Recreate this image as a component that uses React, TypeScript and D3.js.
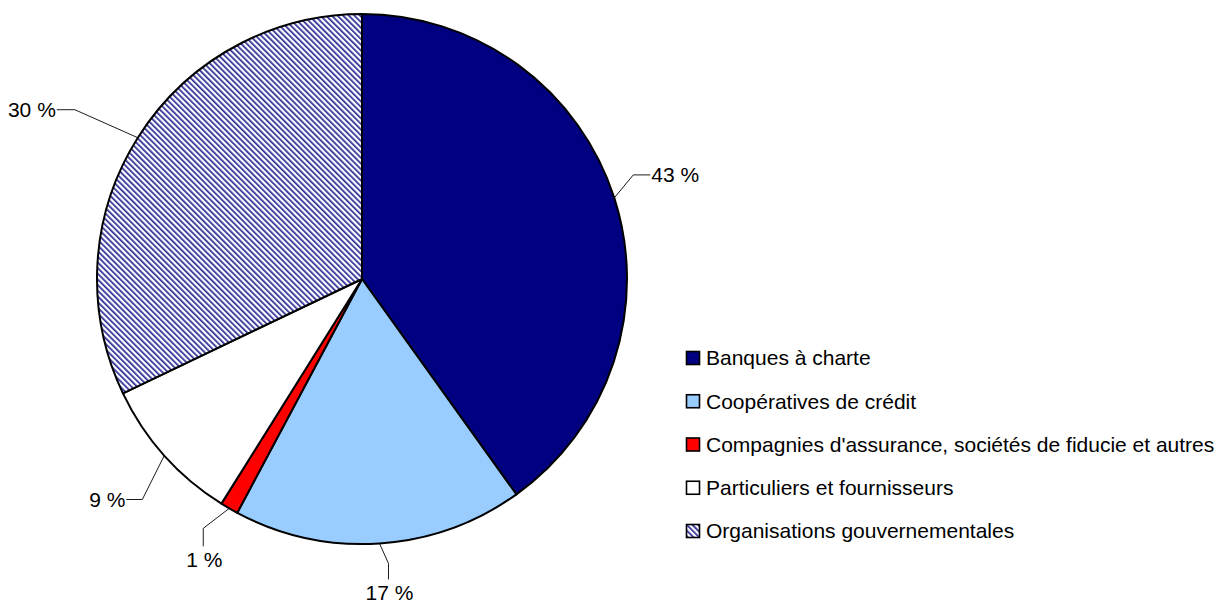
import { useEffect, useRef } from "react";
import * as d3 from "d3";

// shares (clockwise from 12 o'clock)
const categories = [
  "Banques à charte",
  "Coopératives de crédit",
  "Compagnies d'assurance, sociétés de fiducie et autres",
  "Particuliers et fournisseurs",
  "Organisations gouvernementales",
];
const values = [40.1, 17.7, 1.1, 9.0, 32.1];
const valueLabels = ["43 %", "17 %", "1 %", "9 %", "30 %"];
const fills = ["#000080", "#99CCFF", "#FF0000", "#FFFFFF", "url(#hatch)"];

// leader line layout: elbow offset from arc point, then a straight tail
const leaders = [
  { ex: 19, ey: -23, tail: "h", len: 17 },
  { ex: 9, ey: 20, tail: "v", len: 16 },
  { ex: -26, ey: 20, tail: "v", len: 18 },
  { ex: -22, ey: 44, tail: "h", len: -16 },
  { ex: -63, ey: -28, tail: "h", len: -18 },
];

const W = 1223;
const H = 604;
const cx = 362;
const cy = 279;
const R = 265;
const font = "'Liberation Sans', Arial, Helvetica, sans-serif";
const fs = 21;

export default function App() {
  const ref = useRef<SVGSVGElement>(null);

  useEffect(() => {
    const svg = d3.select(ref.current);
    svg.selectAll("*").remove();

    const defs = svg.append("defs");
    const pat = defs
      .append("pattern")
      .attr("id", "hatch")
      .attr("patternUnits", "userSpaceOnUse")
      .attr("width", 4)
      .attr("height", 4)
      .attr("patternTransform", "rotate(-45)");
    pat.append("rect").attr("width", 4).attr("height", 4).attr("fill", "#ffffff");
    pat
      .append("rect")
      .attr("width", 1.7)
      .attr("height", 4)
      .attr("fill", "#2a2a95");

    const pie = d3
      .pie<number>()
      .sort(null)
      .value((d) => d);
    const arcs = pie(values);
    const arc = d3.arc<d3.PieArcDatum<number>>().innerRadius(0).outerRadius(R);

    const g = svg.append("g").attr("transform", `translate(${cx},${cy})`);
    g.selectAll("path.slice")
      .data(arcs)
      .enter()
      .append("path")
      .attr("class", "slice")
      .attr("d", arc)
      .attr("fill", (_, i) => fills[i])
      .attr("stroke", "#000")
      .attr("stroke-width", 2)
      .attr("stroke-linejoin", "round");

    // leader lines + labels
    arcs.forEach((a, i) => {
      const mid = (a.startAngle + a.endAngle) / 2;
      const x0 = R * Math.sin(mid);
      const y0 = -R * Math.cos(mid);
      const L = leaders[i];
      const x1 = x0 + L.ex;
      const y1 = y0 + L.ey;
      const x2 = L.tail === "h" ? x1 + L.len : x1;
      const y2 = L.tail === "v" ? y1 + L.len : y1;
      g.append("polyline")
        .attr("points", `${x0},${y0} ${x1},${y1} ${x2},${y2}`)
        .attr("fill", "none")
        .attr("stroke", "#000")
        .attr("stroke-width", 0.9);
      const t = g
        .append("text")
        .text(valueLabels[i])
        .attr("font-family", font)
        .attr("font-size", fs)
        .attr("fill", "#000");
      if (L.tail === "h") {
        t.attr("x", x2 + (L.len > 0 ? 1 : -1))
          .attr("y", y2)
          .attr("dy", "0.35em")
          .attr("text-anchor", L.len > 0 ? "start" : "end");
      } else {
        t.attr("x", x2 + 1)
          .attr("y", y2 + 21)
          .attr("text-anchor", "middle");
      }
    });

    // legend
    const ly = d3
      .scalePoint<string>()
      .domain(categories)
      .range([358, 531]);
    const lg = svg
      .append("g")
      .selectAll("g")
      .data(categories)
      .enter()
      .append("g")
      .attr("transform", (d) => `translate(686,${ly(d)})`);
    lg.append("rect")
      .attr("x", 0.5)
      .attr("y", -6.5)
      .attr("width", 13)
      .attr("height", 13)
      .attr("fill", (_, i) => fills[i])
      .attr("stroke", "#000")
      .attr("stroke-width", 1.6);
    lg.append("text")
      .text((d) => d)
      .attr("x", 20)
      .attr("y", 0)
      .attr("dy", "0.35em")
      .attr("font-family", font)
      .attr("font-size", fs)
      .attr("fill", "#000");
  }, []);

  return (
    <svg
      ref={ref}
      width={W}
      height={H}
      style={{ position: "absolute", left: 0, top: 0, background: "#fff" }}
    ></svg>
  );
}
